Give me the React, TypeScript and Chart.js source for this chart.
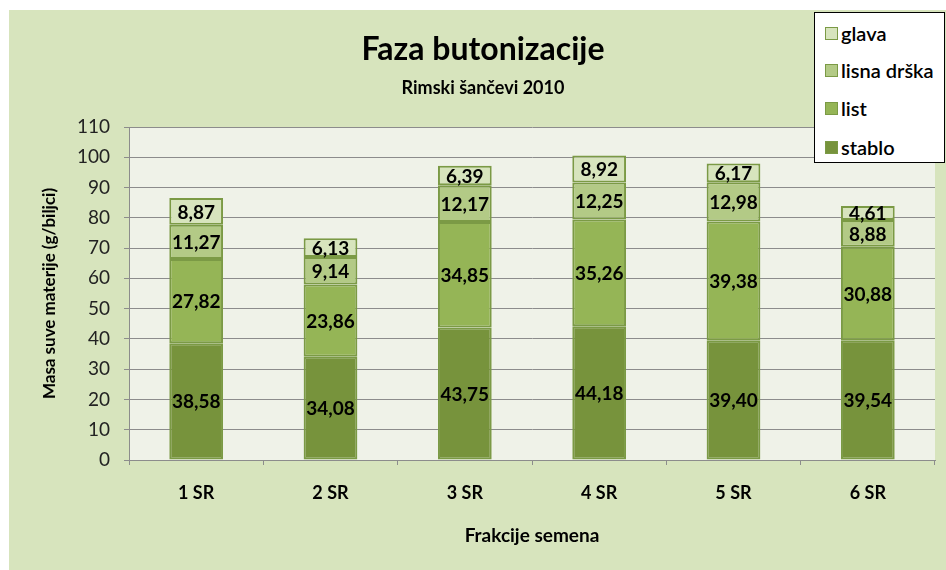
import React, { useEffect, useRef } from 'react';
import { Chart, registerables } from 'chart.js';

Chart.register(...registerables);

const categories = ['1 SR', '2 SR', '3 SR', '4 SR', '5 SR', '6 SR'];
const stablo = [38.58, 34.08, 43.75, 44.18, 39.4, 39.54];
const list = [27.82, 23.86, 34.85, 35.26, 39.38, 30.88];
const lisnaDrska = [11.27, 9.14, 12.17, 12.25, 12.98, 8.88];
const glava = [8.87, 6.13, 6.39, 8.92, 6.17, 4.61];
const seriesNames = ['stablo', 'list', 'lisna drška', 'glava'];
const seriesValues = [stablo, list, lisnaDrska, glava];
const seriesColors = ['#77933c', '#95b556', '#b3ca86', '#d7e4bd'];
const yMin = 0;
const yMax = 110;
const yStep = 10;

const titleText = 'Faza butonizacije';
const subtitleText = 'Rimski šančevi 2010';
const yTitle = 'Masa suve materije (g/biljci)';
const xTitle = 'Frakcije semena';

const FONT = 'Lato, "Open Sans", sans-serif';

const fmt = (v: number) => v.toFixed(2).replace('.', ',');

const bgPlugin = {
  id: 'bgPlugin',
  beforeDraw(chart: any) {
    const { ctx, chartArea, width, height } = chart;
    ctx.save();
    ctx.fillStyle = '#ffffff';
    ctx.fillRect(0, 0, width, height);
    ctx.fillStyle = '#d7e4bd';
    ctx.fillRect(9, 10, width - 9, height - 10);
    ctx.fillStyle = '#eff2e8';
    ctx.fillRect(chartArea.left, chartArea.top, chartArea.right - chartArea.left, chartArea.bottom - chartArea.top);
    ctx.restore();
  },
};

const labelPlugin = {
  id: 'labelPlugin',
  afterDatasetsDraw(chart: any) {
    const { ctx } = chart;
    ctx.save();
    ctx.font = `bold 19px ${FONT}`;
    ctx.fillStyle = '#000000';
    ctx.textAlign = 'center';
    ctx.textBaseline = 'middle';
    chart.data.datasets.forEach((ds: any, i: number) => {
      const meta = chart.getDatasetMeta(i);
      meta.data.forEach((el: any, j: number) => {
        const y = (el.y + el.base) / 2;
        ctx.fillText(fmt(ds.data[j]), el.x, y + 1);
      });
    });
    ctx.restore();
  },
};

export default function App() {
  const ref = useRef<HTMLCanvasElement | null>(null);

  useEffect(() => {
    if (!ref.current) return;
    const chart = new Chart(ref.current, {
      type: 'bar',
      data: {
        labels: categories,
        datasets: seriesNames.map((name, i) => ({
          label: name,
          data: seriesValues[i],
          backgroundColor: seriesColors[i],
          borderColor: '#7b9a45',
          borderWidth: 2,
          borderSkipped: false,
          categoryPercentage: 1,
          barPercentage: 0.4,
        })),
      },
      options: {
        responsive: false,
        animation: false,
        devicePixelRatio: 1,
        layout: { padding: { left: 31, right: 11, top: 0, bottom: 0 } },
        plugins: {
          legend: { display: false },
          tooltip: { enabled: false },
          title: {
            display: true,
            text: titleText,
            color: '#000000',
            font: { family: FONT, size: 32, weight: 'bold', lineHeight: 1.2 },
            padding: { top: 30, bottom: 9 },
          },
          subtitle: {
            display: true,
            text: subtitleText,
            color: '#000000',
            font: { family: FONT, size: 18, weight: 'bold', lineHeight: 1.2 },
            padding: { top: 0, bottom: 28 },
          },
        },
        scales: {
          x: {
            stacked: true,
            afterFit: (s: any) => { s.height = 110; },
            grid: {
              offset: true,
              drawOnChartArea: false,
              drawTicks: true,
              tickLength: 5,
              color: '#8c8c8c',
            },
            border: { display: true, color: '#8c8c8c' },
            ticks: {
              color: '#000000',
              padding: 17,
              font: { family: FONT, size: 18, weight: 'bold' },
            },
            title: {
              display: true,
              text: xTitle,
              color: '#000000',
              font: { family: FONT, size: 19, weight: 'bold', lineHeight: 1.2 },
              padding: { top: 0, bottom: 23 },
            },
          },
          y: {
            stacked: true,
            min: yMin,
            max: yMax,
            afterFit: (s: any) => { s.width = 98; },
            grid: {
              color: '#8c8c8c',
              tickLength: 5,
            },
            border: { display: true, color: '#8c8c8c' },
            ticks: {
              stepSize: yStep,
              color: '#222222',
              padding: 14,
              font: { family: FONT, size: 19 },
            },
            title: {
              display: true,
              text: yTitle,
              color: '#000000',
              font: { family: FONT, size: 17, weight: 'bold', lineHeight: 1.2 },
              padding: { top: 8, bottom: 0 },
            },
          },
        },
      },
      plugins: [bgPlugin, labelPlugin],
    } as any);
    return () => chart.destroy();
  }, []);

  const legendOrder = [3, 2, 1, 0];
  const rowCenters = [20, 57, 95, 134];

  return (
    <div style={{ position: 'absolute', left: 0, top: 0, width: 946, height: 570 }}>
      <canvas ref={ref} width={946} height={570} style={{ width: 946, height: 570, display: 'block' }} />
      <div
        style={{
          position: 'absolute',
          left: 814,
          top: 12,
          width: 131,
          height: 151,
          background: '#ffffff',
          border: '1px solid #000000',
          boxSizing: 'border-box',
          fontFamily: FONT,
        }}
      >
        {legendOrder.map((idx, k) => (
          <div
            key={seriesNames[idx]}
            style={{
              position: 'absolute',
              left: 10,
              top: rowCenters[k] - 12,
              height: 24,
              display: 'flex',
              alignItems: 'center',
              whiteSpace: 'nowrap',
            }}
          >
            <span
              style={{
                display: 'inline-block',
                width: 13,
                height: 13,
                background: seriesColors[idx],
                border: '1px solid #7b9a45',
                boxSizing: 'border-box',
                marginRight: 3,
              }}
            />
            <span style={{ fontSize: 20, fontWeight: 600, color: '#000000' }}>{seriesNames[idx]}</span>
          </div>
        ))}
      </div>
    </div>
  );
}
